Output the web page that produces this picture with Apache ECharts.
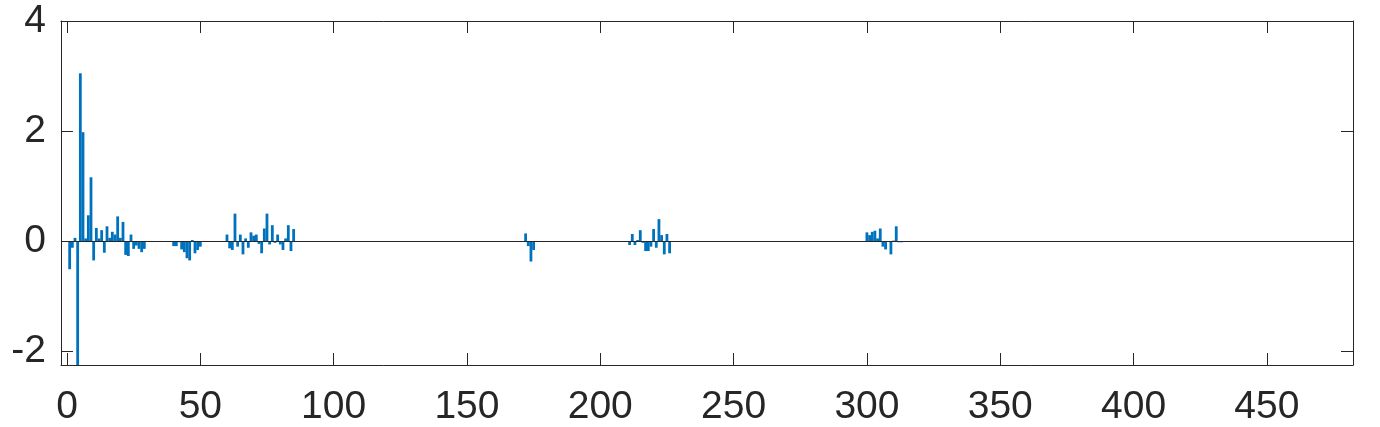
<!DOCTYPE html>
<html>
<head>
<meta charset="utf-8">
<script src="https://cdn.jsdelivr.net/npm/echarts@6/dist/echarts.min.js"></script>
<style>
html,body{margin:0;padding:0;background:#fff;}
#chart{width:1380px;height:427px;}
</style>
</head>
<body>
<div id="chart"></div>
<script>
// Bar clusters: starting index and values
const cluster1Start = 1;
const cluster1Values = [-0.51, -0.12, 0.06, -2.6, 3.05, 1.98, 0.05, 0.47, 1.16, -0.35, 0.24, 0.05, 0.2, -0.21, 0.27, 0.06, 0.17, 0.12, 0.45, 0.06, 0.35, -0.25, -0.27, 0.12, -0.14, -0.08, -0.14, -0.2, -0.14];
const cluster2Start = 40;
const cluster2Values = [-0.09, -0.09, -0.02, -0.15, -0.2, -0.31, -0.35, 0.02, -0.22, -0.16, -0.1];
const cluster3Start = 60;
const cluster3Values = [0.12, -0.13, -0.16, 0.5, -0.1, 0.12, -0.24, 0.05, -0.12, 0.16, 0.1, 0.12, -0.05, -0.22, 0.23, 0.5, -0.06, 0.29, -0.03, 0.12, -0.06, -0.16, 0.05, 0.29, -0.18, 0.22];
const cluster4Start = 172;
const cluster4Values = [0.14, -0.09, -0.37, -0.16];
const cluster5Start = 211;
const cluster5Values = [-0.07, 0.13, -0.07, 0.02, 0.2, -0.03, -0.18, -0.18, -0.1, 0.22, -0.12, 0.4, 0.11, -0.24, 0.13, -0.22];
const cluster6Start = 300;
const cluster6Values = [0.16, 0.11, 0.17, 0.19, 0.05, 0.23, -0.1, -0.15, 0, -0.24, 0.01, 0.27, -0.02, -0.02];

const xTicks = [0, 50, 100, 150, 200, 250, 300, 350, 400, 450];
const yTicks = [-2, 0, 2, 4];

const clusters = [
  [cluster1Start, cluster1Values],
  [cluster2Start, cluster2Values],
  [cluster3Start, cluster3Values],
  [cluster4Start, cluster4Values],
  [cluster5Start, cluster5Values],
  [cluster6Start, cluster6Values]
];
const barData = [];
clusters.forEach(([s, vals]) => vals.forEach((v, i) => barData.push([s + i, v])));

const axisColor = '#262626';
const font = "'Liberation Sans', Helvetica, Arial, sans-serif";
const X_MIN = -2.25, X_MAX = 482.3, Y_MIN = -2.25, Y_MAX = 4;

const chart = echarts.init(document.getElementById('chart'), null, {renderer: 'canvas'});
chart.setOption({
  animation: false,
  backgroundColor: '#ffffff',
  grid: {left: 61, top: 21, right: 27, bottom: 62, containLabel: false},
  xAxis: [
    {
      type: 'value', position: 'bottom', min: X_MIN, max: X_MAX,
      axisLine: {show: true, onZero: false, lineStyle: {color: axisColor, width: 1}},
      axisTick: {show: true, inside: true, length: 12, customValues: xTicks, lineStyle: {color: axisColor}},
      axisLabel: {show: true, customValues: xTicks, fontSize: 39, color: axisColor, fontFamily: font, margin: 23},
      splitLine: {show: false}
    },
    {
      type: 'value', position: 'top', min: X_MIN, max: X_MAX,
      axisLine: {show: true, onZero: false, lineStyle: {color: axisColor, width: 1}},
      axisTick: {show: true, inside: true, length: 12, customValues: xTicks, lineStyle: {color: axisColor}},
      axisLabel: {show: false},
      splitLine: {show: false}
    }
  ],
  yAxis: [
    {
      type: 'value', position: 'left', min: Y_MIN, max: Y_MAX,
      axisLine: {show: true, onZero: false, lineStyle: {color: axisColor, width: 1}},
      axisTick: {show: true, inside: true, length: 12, customValues: yTicks, lineStyle: {color: axisColor}},
      axisLabel: {show: true, customValues: yTicks, fontSize: 39, color: axisColor, fontFamily: font, margin: 15, verticalAlign: 'middle', padding: [8, 0, 0, 0]},
      splitLine: {show: false}
    },
    {
      type: 'value', position: 'right', min: Y_MIN, max: Y_MAX,
      axisLine: {show: true, onZero: false, lineStyle: {color: axisColor, width: 1}},
      axisTick: {show: true, inside: true, length: 12, customValues: yTicks, lineStyle: {color: axisColor}},
      axisLabel: {show: false},
      splitLine: {show: false}
    }
  ],
  series: [{
    type: 'bar',
    xAxisIndex: 0, yAxisIndex: 0,
    data: barData,
    barWidth: 2.8,
    itemStyle: {color: '#0072BD'},
    clip: true,
    markLine: {
      silent: true, symbol: 'none', animation: false,
      label: {show: false},
      lineStyle: {color: axisColor, width: 1, type: 'solid'},
      data: [{yAxis: 0}]
    }
  }]
});
</script>
</body>
</html>
